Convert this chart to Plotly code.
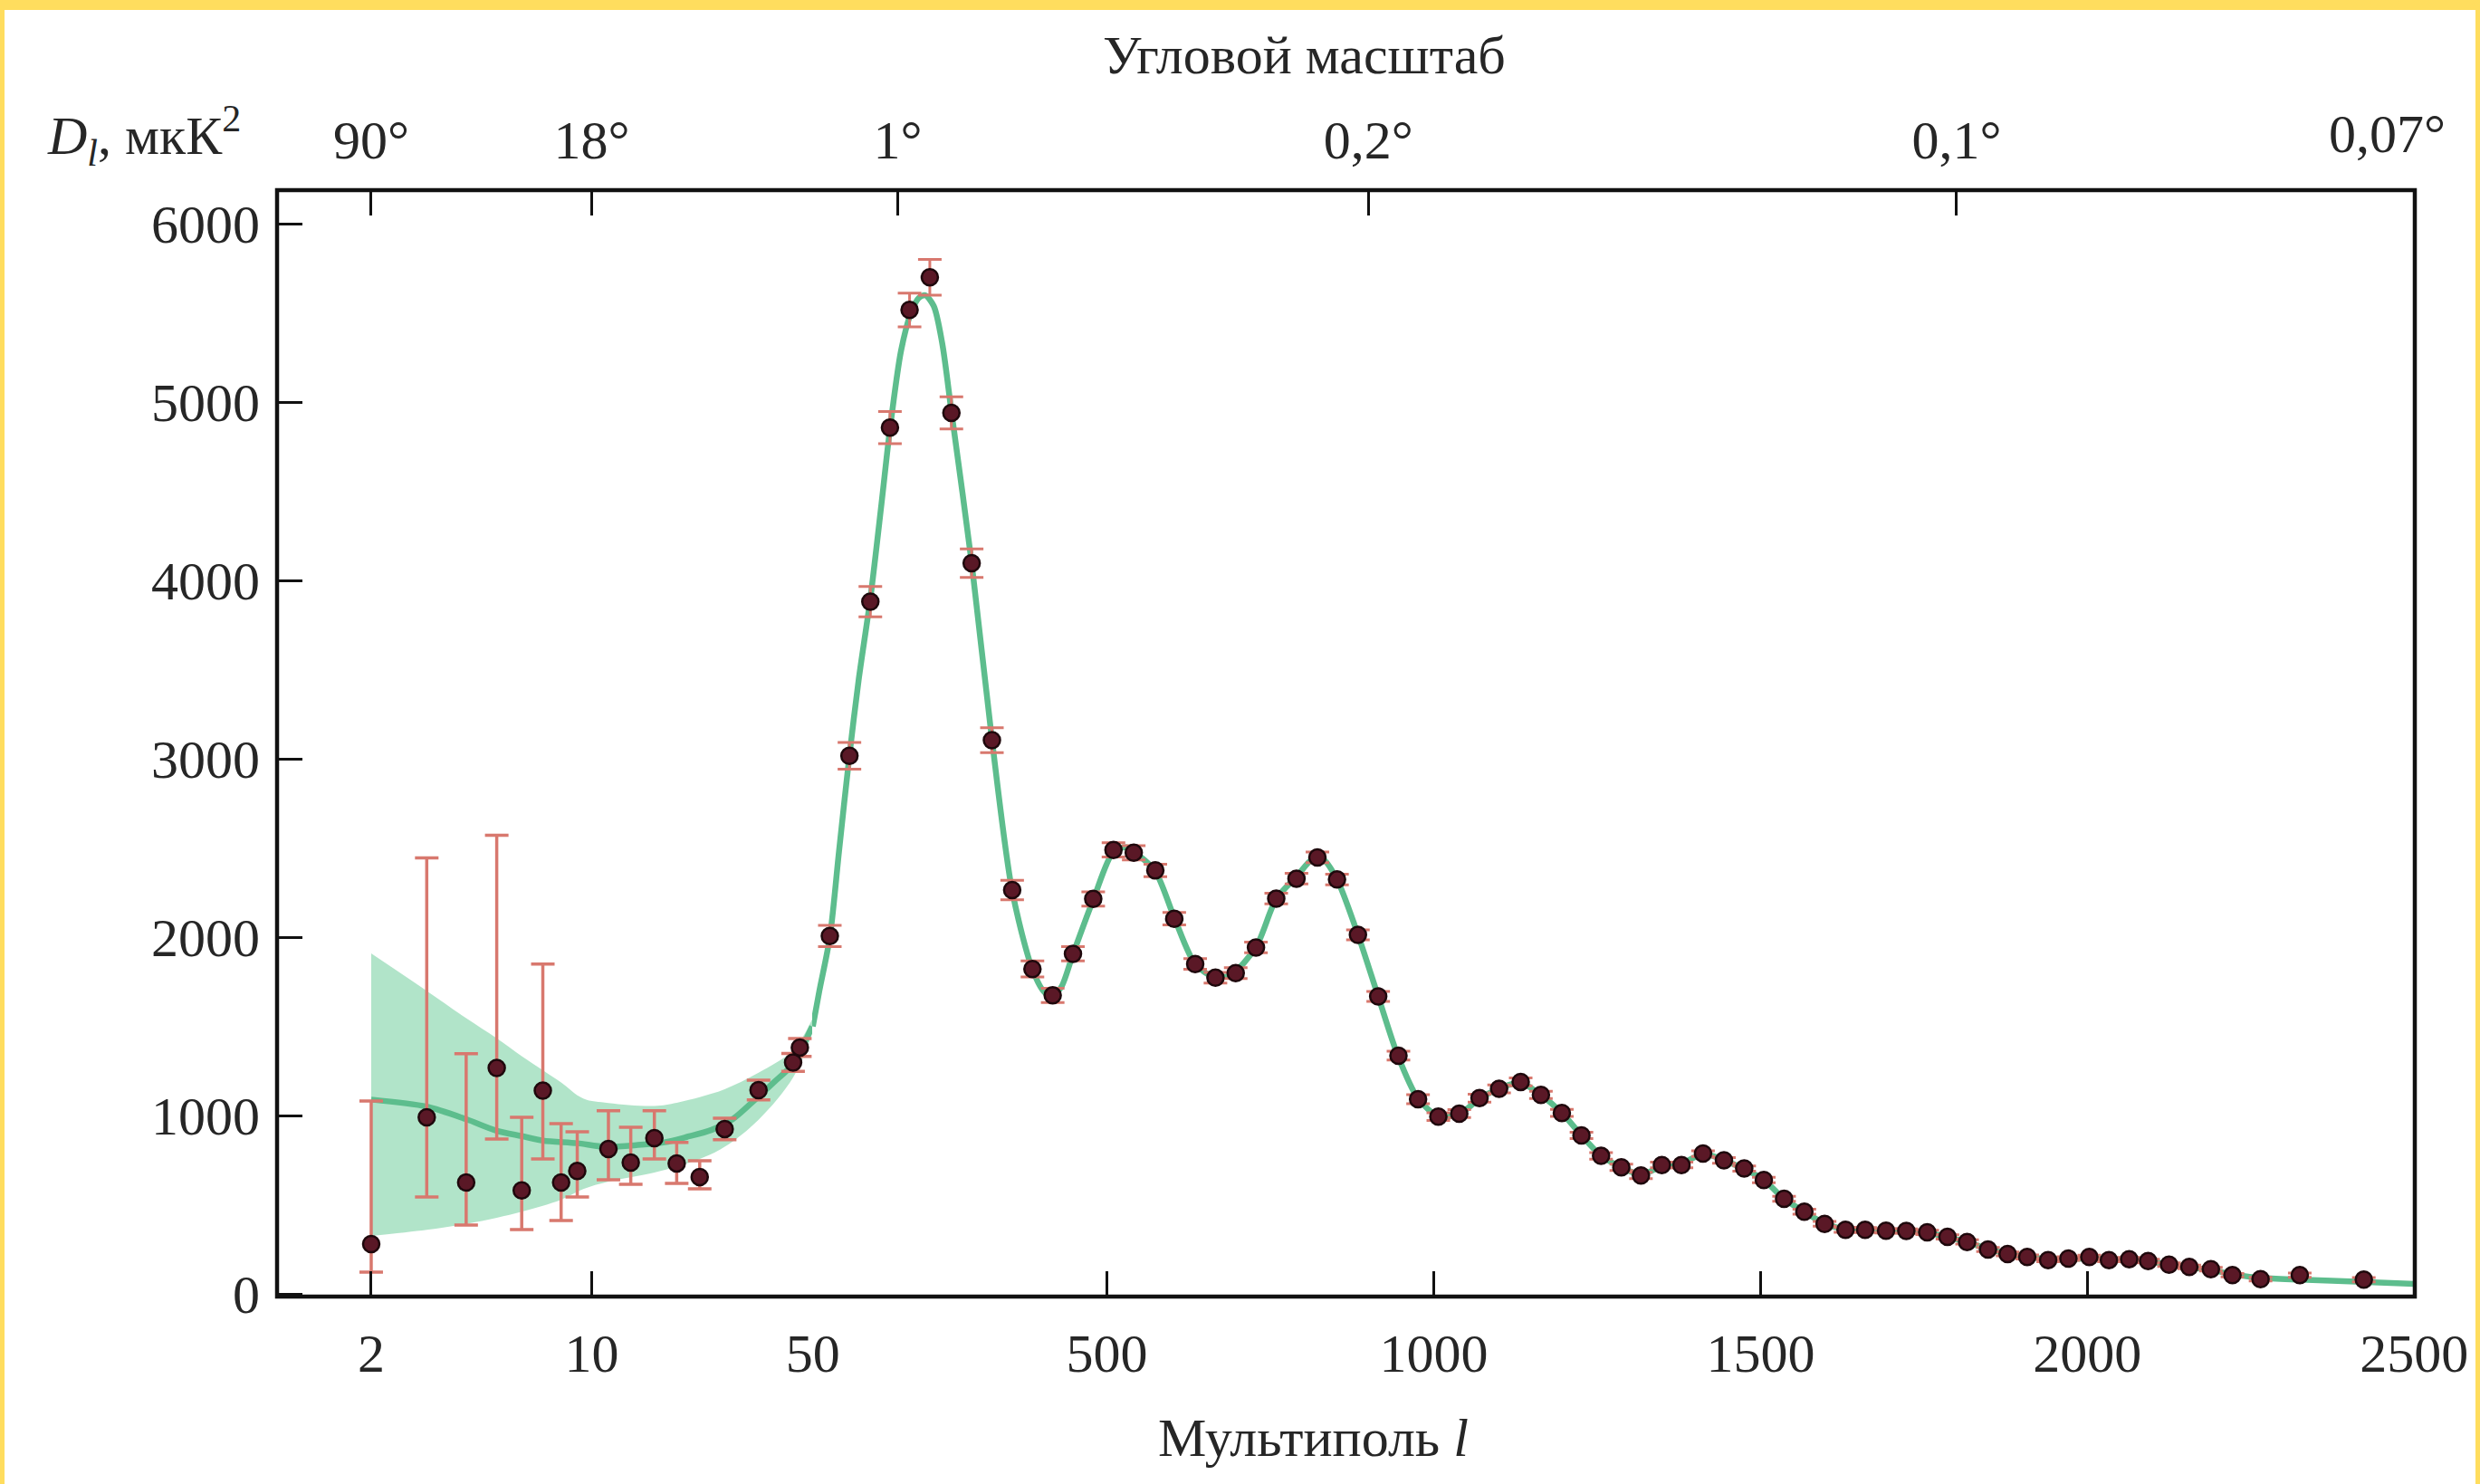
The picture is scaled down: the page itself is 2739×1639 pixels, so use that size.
import math
import plotly.graph_objects as go

# ---------------- data ----------------
# low-l data points (log part of the axis)
low_l = [2, 3, 4, 5, 6, 7, 8, 9, 11.3, 13.3, 15.8, 18.6, 22, 26.4, 33.8, 43.5, 45.7]
low_D = [279, 990, 625, 1267, 580, 1140, 625, 690, 813, 737, 874, 732, 655, 925, 1143, 1298, 1382]
low_err_plus = [803, 1455, 722, 1305, 411, 710, 330, 219, 214, 198, 153, 117, 92, 60, 55, 50, 50]
low_err_minus = [157, 446, 239, 398, 219, 383, 213, 146, 173, 122, 117, 112, 66, 60, 55, 50, 50]

# binned high-l data points (linear part of the axis)
hi_l = [76, 106, 138, 168, 198, 229, 262, 293, 324, 355, 386, 417, 448, 479, 510, 541,
        574, 603, 635, 666, 697, 728, 759, 790, 822, 852, 884, 915, 946, 976, 1007, 1039,
        1070, 1100, 1133, 1164, 1196, 1226, 1256, 1287, 1317, 1349, 1379, 1412, 1444, 1475,
        1505, 1536, 1567, 1598, 1630, 1660, 1692, 1723, 1755, 1786, 1816, 1848, 1878, 1908,
        1940, 1971, 2003, 2033, 2064, 2093, 2125, 2156, 2189, 2222, 2265, 2325, 2423]
hi_D = [2007, 3018, 3882, 4858, 5518, 5701, 4941, 4098, 3105, 2265, 1822, 1674, 1907, 2215, 2490, 2474,
        2375, 2104, 1850, 1773, 1799, 1943, 2217, 2329, 2448, 2324, 2014, 1668, 1336, 1092, 994, 1011,
        1098, 1150, 1189, 1116, 1015, 889, 774, 710, 664, 723, 723, 787, 749, 703,
        639, 533, 461, 393, 359, 359, 354, 353, 345, 320, 291, 249, 224, 207,
        190, 198, 207, 190, 195, 184, 164, 151, 139, 105, 83, 105, 80]
hi_err = [60, 75, 85, 90, 95, 100, 90, 80, 70, 55, 45, 40, 40, 40, 40, 40,
          35, 35, 30, 30, 30, 30, 30, 30, 30, 30, 28, 28, 25, 25, 22, 22,
          22, 22, 22, 20, 20, 18, 18, 18, 18, 16, 16, 16, 16, 15,
          15, 14, 14, 13, 13, 13, 12, 12, 12, 12, 12, 11, 11, 11,
          10, 10, 10, 10, 10, 10, 10, 10, 10, 10, 10, 12, 12]

# best-fit model curve
th_low_l = [2, 3, 4, 5, 6, 7, 9, 11, 14, 17, 20, 24, 28, 33, 38, 43, 47, 50]
th_low_D = [1090, 1050, 980, 915, 885, 860, 845, 825, 835, 850, 880, 920, 980, 1090, 1190, 1280, 1400, 1500]
th_hi_l = [50, 60, 76, 90, 106, 120, 138, 155, 168, 185, 200, 212, 222, 235, 248, 262, 293, 324,
           355, 386, 405, 417, 430, 448, 479, 510, 530, 545, 574, 603, 635, 665, 690, 728,
           759, 790, 815, 830, 852, 884, 915, 945, 976, 1008, 1040, 1070, 1100, 1133, 1164,
           1196, 1226, 1256, 1287, 1317, 1349, 1379, 1412, 1444, 1475, 1505, 1535, 1567, 1598,
           1630, 1660, 1692, 1723, 1755, 1786, 1816, 1848, 1878, 1908, 1940, 1971, 2003, 2033,
           2064, 2093, 2125, 2156, 2189, 2222, 2265, 2325, 2420, 2500]
th_hi_D = [1500, 1700, 2000, 2480, 3020, 3440, 3900, 4430, 4850, 5290, 5500, 5585, 5600, 5540, 5330, 4950, 4100, 3110,
           2260, 1820, 1690, 1675, 1720, 1905, 2210, 2480, 2505, 2470, 2370, 2110, 1850, 1775, 1790, 1945,
           2215, 2340, 2440, 2440, 2325, 2015, 1668, 1336, 1095, 995, 1010, 1095, 1150, 1185, 1115,
           1015, 889, 775, 710, 670, 715, 730, 785, 750, 700, 640, 535, 460, 395,
           362, 358, 354, 352, 343, 318, 290, 252, 225, 208, 195, 195, 200, 192,
           190, 182, 165, 150, 135, 110, 90, 80, 68, 56]

# cosmic-variance band around the model at low l
band_l = [2, 3, 4, 5, 6, 7, 8, 9.4, 11.3, 15.8, 18.6, 22, 26.4, 33.8, 43.5, 50]
band_lo = [325, 359, 393, 427, 461, 494, 528, 588, 630, 681, 715, 757, 825, 977, 1214, 1460]
band_hi = [1909, 1699, 1546, 1433, 1333, 1255, 1186, 1096, 1071, 1054, 1072, 1104, 1148, 1240, 1367, 1540]

# axis ticks
bottom_low_ticks = [2, 10]
bottom_hi_ticks = [50, 500, 1000, 1500, 2000, 2500]
top_low_ticks = [2, 10]
top_low_text = ["90°", "18°"]
top_hi_ticks = [180, 900, 1800]
top_hi_text = ["1°", "0,2°", "0,1°"]
y_ticks = [0, 1000, 2000, 3000, 4000, 5000, 6000]

# ---------------- style ----------------
FONT = "Liberation Serif"
TXT = "#262626"
GREEN = "#5dbd8d"
BAND = "rgba(120,208,162,0.58)"
ERR = "#d8786e"
PT = "#5a1826"
PT_EDGE = "#1e080c"

W, H = 2739, 1639
ML, MR, MT, MB = 306, 72, 210, 207
PW = W - ML - MR
PH = H - MT - MB
JOIN = 897
f = (JOIN - ML) / PW

low_range = [math.log10(1.006), math.log10(50)]
hi_range = [49.0, 2501]
y_range = [-15, 6190]

fig = go.Figure()

# band (log part)
fig.add_trace(go.Scatter(x=band_l, y=band_lo, mode="lines", line=dict(width=0, shape="spline"),
                         xaxis="x", yaxis="y", showlegend=False, hoverinfo="skip"))
fig.add_trace(go.Scatter(x=band_l, y=band_hi, mode="lines", line=dict(width=0, shape="spline"),
                         fill="tonexty", fillcolor=BAND, xaxis="x", yaxis="y",
                         showlegend=False, hoverinfo="skip"))

# model curve
fig.add_trace(go.Scatter(x=th_low_l, y=th_low_D, mode="lines",
                         line=dict(color=GREEN, width=6.5, shape="spline", smoothing=0.8),
                         xaxis="x", yaxis="y", showlegend=False))
fig.add_trace(go.Scatter(x=th_hi_l, y=th_hi_D, mode="lines",
                         line=dict(color=GREEN, width=6.5, shape="spline", smoothing=0.8),
                         xaxis="x2", yaxis="y2", showlegend=False))

# data points
fig.add_trace(go.Scatter(x=low_l, y=low_D, mode="markers",
                         marker=dict(size=18, color=PT, line=dict(color=PT_EDGE, width=2.5)),
                         error_y=dict(type="data", symmetric=False, array=low_err_plus,
                                      arrayminus=low_err_minus, color=ERR, thickness=3.5, width=13),
                         xaxis="x", yaxis="y", showlegend=False, cliponaxis=False))
fig.add_trace(go.Scatter(x=hi_l, y=hi_D, mode="markers",
                         marker=dict(size=18, color=PT, line=dict(color=PT_EDGE, width=2.5)),
                         error_y=dict(type="data", array=hi_err, color=ERR, thickness=3, width=13),
                         xaxis="x2", yaxis="y2", showlegend=False, cliponaxis=False))

# invisible anchors for top axes
fig.add_trace(go.Scatter(x=[10], y=[0], mode="markers", marker=dict(opacity=0),
                         xaxis="x3", yaxis="y", showlegend=False, hoverinfo="skip"))
fig.add_trace(go.Scatter(x=[1000], y=[0], mode="markers", marker=dict(opacity=0),
                         xaxis="x4", yaxis="y2", showlegend=False, hoverinfo="skip"))

tickfont = dict(family=FONT, size=60, color=TXT)
common = dict(ticks="inside", ticklen=28, tickwidth=2.5, tickcolor="#111",
              showgrid=False, zeroline=False, showline=False, tickfont=tickfont)

fig.update_layout(
    width=W, height=H,
    margin=dict(l=ML, r=MR, t=MT, b=MB),
    paper_bgcolor="white", plot_bgcolor="white",
    font=dict(family=FONT, color=TXT),
    xaxis=dict(domain=[0, f], type="log", range=low_range, tickmode="array",
               tickvals=bottom_low_ticks, ticktext=[str(v) for v in bottom_low_ticks],
               anchor="y", ticklabelstandoff=22, **common),
    xaxis2=dict(domain=[f, 1], range=hi_range, tickmode="array",
                tickvals=bottom_hi_ticks, ticktext=[str(v) for v in bottom_hi_ticks],
                anchor="y2", ticklabelstandoff=22, **common),
    xaxis3=dict(overlaying="x", side="top", type="log", range=low_range, tickmode="array",
                tickvals=top_low_ticks, ticktext=top_low_text, anchor="y",
                ticklabelstandoff=22, **common),
    xaxis4=dict(overlaying="x2", side="top", range=hi_range, tickmode="array",
                tickvals=top_hi_ticks, ticktext=top_hi_text, anchor="y2",
                ticklabelstandoff=22, **common),
    yaxis=dict(range=y_range, tickmode="array", tickvals=y_ticks,
               ticktext=[str(v) for v in y_ticks], anchor="x", ticklabelstandoff=18, **common),
    yaxis2=dict(range=y_range, matches="y", anchor="x2", showticklabels=False, ticks="",
                showgrid=False, zeroline=False, showline=False),
)


def px_x(p):
    return (p - ML) / PW


def px_y(p):
    return (H - MB - p) / PH


annots = [
    dict(text="Угловой масштаб", x=px_x(1440), y=px_y(61)),
    dict(text="Мультиполь <i>l</i>", x=px_x(1450), y=px_y(1588)),
    dict(text="0,07°", x=px_x(2636), y=px_y(148)),
]
for a in annots:
    fig.add_annotation(xref="paper", yref="paper", showarrow=False, xanchor="center",
                       yanchor="middle", font=dict(family=FONT, size=60, color=TXT), **a)
fig.add_annotation(xref="paper", yref="paper", showarrow=False, xanchor="left", yanchor="middle",
                   x=px_x(50), y=px_y(150),
                   text="<i>D</i><sub><i>l</i></sub>, мкК<sup>2</sup>",
                   font=dict(family=FONT, size=60, color=TXT))

# plot frame
fig.add_shape(type="rect", xref="paper", yref="paper", x0=0, x1=1, y0=0, y1=1,
              line=dict(color="#111", width=4.5), layer="above")
# yellow border of the screenshot
YEL = "#FFDD5E"
for (x0, x1, y0, y1) in [(0, W, 0, 11), (0, 5, 0, H), (W - 5, W, 0, H)]:
    fig.add_shape(type="rect", xref="paper", yref="paper",
                  x0=px_x(x0), x1=px_x(x1), y0=px_y(y1), y1=px_y(y0),
                  line=dict(width=0), fillcolor=YEL, layer="above")

fig.write_html("out.html",
               config={"displayModeBar": False},
               post_script="document.body.style.margin='0';document.body.style.overflow='hidden';")
